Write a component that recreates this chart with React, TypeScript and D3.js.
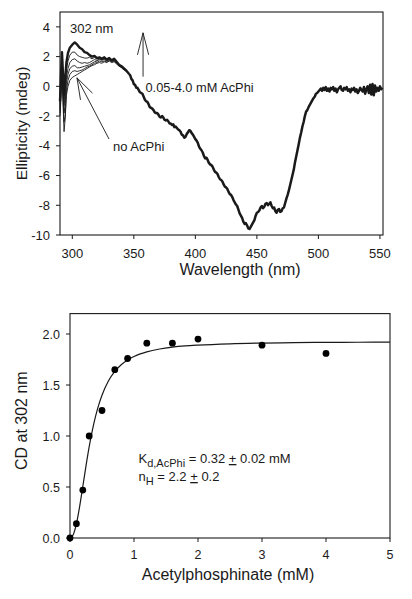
import React from "react";
import * as d3 from "d3";

// ---------- Top chart data (CD spectra) ----------
const earlyWl = [290, 290.8, 291.6, 292.4, 293.3, 294.2, 295.2, 296.5, 298, 300, 302, 304, 306, 308, 310, 312, 314, 316, 318, 320, 322, 324, 326, 328, 330, 332, 334, 336, 338, 340, 342, 344, 346];
const spec0 = [-2.0, -0.8, 1.2, -1.0, -3.05, -2.2, -0.6, 0.0, 0.4, 0.6, 0.7, 0.8, 0.9, 1.0, 1.1, 1.2, 1.3, 1.4, 1.45, 1.55, 1.6, 1.55, 1.65, 1.6, 1.7, 1.6, 1.65, 1.5, 1.35, 1.25, 1.1, 1.0, 0.85];
const spec1 = [-1.8, -0.4, 1.6, -0.6, -2.4, -2.0, -0.3, 0.4, 0.8, 1.0, 1.05, 1.0, 1.05, 1.1, 1.2, 1.3, 1.35, 1.45, 1.55, 1.6, 1.7, 1.65, 1.7, 1.65, 1.75, 1.65, 1.7, 1.55, 1.4, 1.3, 1.15, 1.0, 0.85];
const spec2 = [-1.6, 0.0, 1.9, -0.2, -1.8, -1.2, 0.2, 0.8, 1.2, 1.35, 1.4, 1.25, 1.25, 1.3, 1.35, 1.4, 1.45, 1.55, 1.65, 1.7, 1.8, 1.75, 1.8, 1.7, 1.8, 1.7, 1.75, 1.6, 1.4, 1.3, 1.15, 1.05, 0.85];
const spec3 = [-1.4, 0.3, 2.1, 0.2, -1.3, -0.6, 0.6, 1.2, 1.6, 1.8, 1.85, 1.7, 1.6, 1.55, 1.6, 1.55, 1.6, 1.7, 1.8, 1.75, 1.85, 1.8, 1.85, 1.75, 1.85, 1.7, 1.8, 1.6, 1.45, 1.3, 1.2, 1.05, 0.85];
const spec4 = [-1.2, 0.6, 2.2, 0.6, -0.9, 0.0, 1.1, 1.7, 2.1, 2.3, 2.3, 2.1, 2.0, 1.95, 1.9, 1.9, 1.95, 1.85, 1.95, 1.85, 1.9, 1.8, 1.9, 1.8, 1.85, 1.75, 1.8, 1.6, 1.45, 1.35, 1.2, 1.05, 0.85];
const spec5 = [-1.0, 0.8, 2.3, 0.9, -0.6, 0.5, 1.6, 2.25, 2.6, 2.8, 2.95, 2.8, 2.6, 2.5, 2.3, 2.25, 2.1, 2.0, 2.05, 1.9, 1.95, 1.85, 1.95, 1.8, 1.9, 1.75, 1.85, 1.65, 1.45, 1.35, 1.2, 1.05, 0.85];

const mainWl = d3.range(346, 553, 1);
const mainVal = [
  0.85, 0.75, 0.5, 0.4, 0.15, 0.1, -0.1, -0.1, -0.25, -0.4,
  -0.45, -0.5, -0.7, -0.9, -1.0, -1.05, -1.2, -1.4, -1.45, -1.5,
  -1.6, -1.75, -1.8, -1.8, -1.9, -2.05, -2.1, -2.0, -2.1, -2.25,
  -2.3, -2.25, -2.35, -2.5, -2.5, -2.6, -2.55, -2.75, -2.7, -2.8,
  -2.9, -2.95, -3.05, -3.25, -3.3, -3.45, -3.4, -3.2, -3.1, -2.95,
  -3.0, -3.15, -3.25, -3.4, -3.55, -3.65, -3.8, -4.05, -4.2, -4.3,
  -4.45, -4.7, -4.85, -4.8, -4.95, -5.15, -5.25, -5.3, -5.4, -5.6,
  -5.75, -5.8, -5.9, -6.1, -6.25, -6.3, -6.4, -6.6, -6.75, -6.8,
  -6.9, -7.1, -7.25, -7.3, -7.45, -7.65, -7.8, -7.95, -8.05, -8.3,
  -8.55, -8.7, -8.85, -9.1, -9.25, -9.2, -9.35, -9.55, -9.6, -9.45,
  -9.3, -9.15, -9.0, -8.7, -8.5, -8.45, -8.35, -8.15, -8.05, -8.2,
  -8.1, -7.9, -7.85, -8.0, -7.9, -7.8, -8.05, -8.2, -8.15, -8.4,
  -8.5, -8.3, -8.25, -8.45, -8.4, -8.2, -8.15, -7.85, -7.55, -7.3,
  -7.0, -6.65, -6.3, -5.95, -5.6, -5.1, -4.7, -4.3, -3.9, -3.45,
  -3.1, -2.7, -2.4, -2.0, -1.7, -1.6, -1.4, -1.25, -1.1, -0.95,
  -0.8, -0.7, -0.5, -0.45, -0.35, -0.25, -0.15, -0.3, -0.1, -0.25,
  -0.05, -0.3, -0.15, -0.35, -0.1, -0.2, -0.05, -0.3, -0.15, -0.4,
  -0.2, -0.1, 0.0, -0.25, -0.3, -0.1, -0.2, -0.05, -0.3, -0.2,
  -0.4, -0.15, -0.25, -0.1, -0.35, -0.2, -0.45, -0.3, -0.1, -0.25,
  -0.35, -0.05, -0.5, -0.2, 0.0, -0.45, 0.1, -0.55, 0.15, -0.6,
  0.05, -0.35, -0.1, -0.3, 0.0, -0.2, -0.1
];

const topXTicks = [300, 350, 400, 450, 500, 550];
const topYTicks = [-10, -8, -6, -4, -2, 0, 2, 4];

// ---------- Bottom chart data (titration) ----------
const concMM = [0, 0.1, 0.2, 0.3, 0.5, 0.7, 0.9, 1.2, 1.6, 2.0, 3.0, 4.0];
const cd302 = [0.0, 0.14, 0.47, 1.0, 1.25, 1.65, 1.76, 1.91, 1.91, 1.95, 1.89, 1.81];
const fitX = [0, 0.05, 0.1, 0.15, 0.2, 0.25, 0.3, 0.35, 0.4, 0.45, 0.5, 0.6, 0.7, 0.8, 0.9, 1.0, 1.2, 1.4, 1.6, 1.8, 2.0, 2.5, 3.0, 3.5, 4.0, 4.5, 5.0];
const fitY = [0, 0.032, 0.138, 0.306, 0.505, 0.707, 0.895, 1.057, 1.194, 1.307, 1.4, 1.539, 1.633, 1.699, 1.746, 1.78, 1.825, 1.853, 1.871, 1.883, 1.891, 1.904, 1.911, 1.915, 1.918, 1.919, 1.92];
const botXTicks = [0, 1, 2, 3, 4, 5];
const botYTicks = [0, 0.5, 1.0, 1.5, 2.0];

const FONT = "'Liberation Sans', Arial, Helvetica, sans-serif";
const INK = "#1a1a1a";

export default function App() {
  const xT = d3.scaleLinear().domain([290, 552.5]).range([60, 383]);
  const yT = d3.scaleLinear().domain([-10, 5]).range([235, 12]);
  const xB = d3.scaleLinear().domain([0, 5]).range([70, 390]);
  const yB = d3.scaleLinear().domain([0, 2.2]).range([538, 313.6]);

  const lineT = d3.line<[number, number]>().x(d => xT(d[0])).y(d => yT(d[1]));
  const early = [spec0, spec1, spec2, spec3, spec4, spec5];
  const mainPath = lineT(mainWl.map((w, i) => [w, mainVal[i]] as [number, number])) || "";

  const fitLine = d3.line<[number, number]>().x(d => xB(d[0])).y(d => yB(d[1])).curve(d3.curveMonotoneX);
  const fitPath = fitLine(fitX.map((x, i) => [x, fitY[i]] as [number, number])) || "";

  const arrowX = xT(357.5);
  const arrowTip = yT(3.6);
  const arrowBase = yT(0.65);
  const noTipX = xT(303.8);
  const noTipY = yT(0.57);

  return (
    <svg width={412} height={599} style={{ position: "absolute", left: 0, top: 0, background: "#fff" }} fontFamily={FONT}>
      <rect x={0} y={0} width={412} height={599} fill="#fff" />
      {/* ===== TOP CHART ===== */}
      <g>
        <rect x={xT(290)} y={yT(5)} width={xT(552.5) - xT(290)} height={yT(-10) - yT(5)} fill="none" stroke={INK} strokeWidth={1.1} />
        {topYTicks.map(t => (
          <g key={"yt" + t}>
            <line x1={xT(290) - 4} x2={xT(290)} y1={yT(t)} y2={yT(t)} stroke={INK} strokeWidth={1} />
            <text x={50} y={yT(t)} dy="0.36em" textAnchor="end" fontSize={13} fill={INK}>{t}</text>
          </g>
        ))}
        {topXTicks.map(t => (
          <g key={"xt" + t}>
            <line x1={xT(t)} x2={xT(t)} y1={yT(-10)} y2={yT(-10) + 4} stroke={INK} strokeWidth={1} />
            <text x={xT(t)} y={258} textAnchor="middle" fontSize={13} fill={INK}>{t}</text>
          </g>
        ))}
        <text x={240} y={275} textAnchor="middle" fontSize={16} fill={INK}>Wavelength (nm)</text>
        <text transform={`translate(27,${yT(-2.5)}) rotate(-90)`} textAnchor="middle" fontSize={15.5} fill={INK}>Ellipticity (mdeg)</text>

        {early.map((s, k) => (
          <path key={"sp" + k}
            d={lineT(earlyWl.map((w, i) => [w, s[i]] as [number, number])) || ""}
            fill="none" stroke={INK}
            strokeWidth={k === 5 ? 2.4 : 0.9}
            strokeLinejoin="round" />
        ))}
        <path d={mainPath} fill="none" stroke={INK} strokeWidth={2.5} strokeLinejoin="round" />

        <text x={70} y={33} fontSize={13} fill={INK}>302 nm</text>
        <line x1={arrowX} x2={arrowX} y1={arrowBase} y2={arrowTip} stroke={INK} strokeWidth={0.9} />
        <polyline points={`${arrowX - 5.6},${arrowTip + 22} ${arrowX},${arrowTip} ${arrowX + 5.6},${arrowTip + 22}`} fill="none" stroke={INK} strokeWidth={0.9} />
        <text x={145.5} y={91.5} fontSize={12.8} fill={INK}>0.05-4.0 mM AcPhi</text>

        <line x1={noTipX} y1={noTipY} x2={109} y2={139} stroke={INK} strokeWidth={0.9} />
        <line x1={noTipX} y1={noTipY} x2={noTipX + 15.5} y2={noTipY + 15.3} stroke={INK} strokeWidth={0.9} />
        <line x1={noTipX} y1={noTipY} x2={noTipX + 3.5} y2={noTipY + 22} stroke={INK} strokeWidth={0.9} />
        <text x={113} y={150.5} fontSize={13} fill={INK}>no AcPhi</text>
      </g>

      {/* ===== BOTTOM CHART ===== */}
      <g>
        <rect x={xB(0)} y={yB(2.2)} width={xB(5) - xB(0)} height={yB(0) - yB(2.2)} fill="none" stroke={INK} strokeWidth={1.1} />
        {botYTicks.map(t => (
          <g key={"by" + t}>
            <line x1={xB(0) - 4} x2={xB(0)} y1={yB(t)} y2={yB(t)} stroke={INK} strokeWidth={1} />
            <text x={60} y={yB(t)} dy="0.36em" textAnchor="end" fontSize={12.5} fill={INK}>{t.toFixed(1)}</text>
          </g>
        ))}
        {botXTicks.map(t => (
          <g key={"bx" + t}>
            <line x1={xB(t)} x2={xB(t)} y1={yB(0)} y2={yB(0) + 4} stroke={INK} strokeWidth={1} />
            <text x={xB(t)} y={559} textAnchor="middle" fontSize={12.5} fill={INK}>{t}</text>
          </g>
        ))}
        <text x={228} y={580} textAnchor="middle" fontSize={16} fill={INK}>Acetylphosphinate (mM)</text>
        <text transform={`translate(27,${yB(1.15)}) rotate(-90)`} textAnchor="middle" fontSize={16} fill={INK}>CD at 302 nm</text>

        <path d={fitPath} fill="none" stroke={INK} strokeWidth={1.2} />
        {concMM.map((c, i) => (
          <circle key={"pt" + i} cx={xB(c)} cy={yB(cd302[i])} r={3.4} fill="#000" />
        ))}

        <text x={138.5} y={463} fontSize={13} fill={INK}>
          K<tspan fontSize={11} dy={4}>d,AcPhi</tspan>
          <tspan dy={-4}> = 0.32 </tspan>
          <tspan textDecoration="underline">+</tspan>
          <tspan> 0.02 mM</tspan>
        </text>
        <text x={138.5} y={481} fontSize={13} fill={INK}>
          n<tspan fontSize={11} dy={4}>H</tspan>
          <tspan dy={-4}> = 2.2 </tspan>
          <tspan textDecoration="underline">+</tspan>
          <tspan> 0.2</tspan>
        </text>
      </g>
    </svg>
  );
}
